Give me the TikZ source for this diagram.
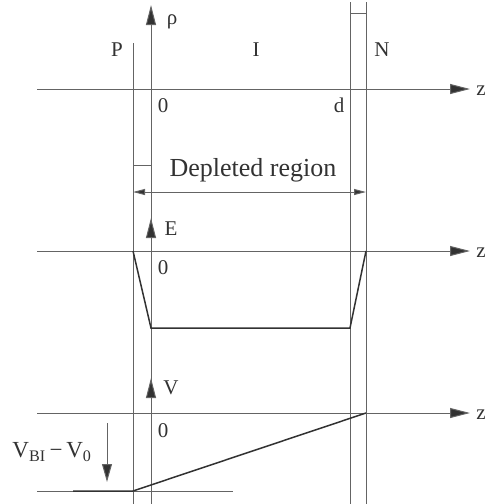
\documentclass[tikz,border=0pt]{standalone}
\usepackage{fontspec}
\setmainfont{Liberation Serif}
\usetikzlibrary{arrows.meta}
\definecolor{axisgray}{RGB}{100,100,100}
\definecolor{inkgray}{RGB}{50,50,50}
\begin{document}
\begin{tikzpicture}[x=1pt,y=-1pt,
  axisline/.style={draw=axisgray,line width=1pt},
  bigarrow/.style={axisline,-{Triangle[length=20pt,width=10pt,fill=inkgray]}},
  tinyarrow/.style={axisline,{Triangle[length=12pt,width=6pt,fill=inkgray]}-{Triangle[length=12pt,width=6pt,fill=inkgray]}},
  curve/.style={draw=inkgray,line width=1.5pt},
  lbl/.style={text=inkgray,font=\fontsize{21}{21}\selectfont,inner sep=0pt}]
\useasboundingbox (0,0) rectangle (487,504);
% vertical boundaries
\coordinate (ptop) at (133,43);   \coordinate (pbot) at (133,504);
\coordinate (rhotop) at (151,5);  \coordinate (rhobot) at (151,504);
\coordinate (dtop) at (350,2);    \coordinate (dbot) at (350,504);
\coordinate (ntop) at (366,2);    \coordinate (nbot) at (366,504);
\draw[axisline] (ptop) -- (pbot);
\draw[axisline] (dtop) -- (dbot);
\draw[axisline] (ntop) -- (nbot);
\draw[bigarrow] (rhobot) -- (rhotop);
% small crossbars
\draw[axisline] (133,165) -- (151,165);
\draw[axisline] (350,13) -- (366,13);
% z axes
\foreach \yy/\nm in {89/rho,251/efield,413/pot}{
  \coordinate (\nm west) at (37,\yy);
  \coordinate (\nm east) at (470,\yy);
  \draw[bigarrow] (\nm west) -- (\nm east);
  \node[lbl,anchor=east] (\nm z) at (486,\yy+2) {z};
}
% depleted region
\coordinate (depl) at (133,192);
\coordinate (depr) at (366,192);
\draw[tinyarrow] (depl) -- (depr);
\node[lbl,font=\fontsize{26}{26}\selectfont] (deptext) at (253,170) {Depleted region};
% labels, top
\node[lbl] (plbl) at (117,50) {P};
\node[lbl] (ilbl) at (256,50) {I};
\node[lbl] (nlbl) at (382,50) {N};
\node[lbl] (rholbl) at (172,22) {ρ};
\node[lbl] (zero1) at (163,106) {0};
\node[lbl] (dlbl) at (339,105) {d};
% field
\draw[bigarrow] (151,245) -- (151,218);
\node[lbl] (elbl) at (171,229) {E};
\node[lbl] (zero2) at (163,268) {0};
\coordinate (e1) at (133,251);
\coordinate (e2) at (151,328);
\coordinate (e3) at (350,328);
\coordinate (e4) at (366,251);
\draw[curve] (e1) -- (e2) -- (e3) -- (e4);
% potential
\draw[bigarrow] (151,405) -- (151,378);
\node[lbl] (vlbl) at (171,388) {V};
\node[lbl] (zero3) at (163,431) {0};
\coordinate (vlow) at (37,491);
\coordinate (vlowend) at (233,491);
\draw[axisline] (vlow) -- (vlowend);
\coordinate (v0) at (73,491);
\coordinate (v1) at (133,491);
\coordinate (v2) at (366,413);
\draw[curve] (v0) -- (v1) -- (v2);
\coordinate (vdtop) at (107,423);
\coordinate (vdbot) at (107,482);
\draw[axisline,-{Triangle[length=18pt,width=10pt,fill=inkgray]}] (vdtop) -- (vdbot);
\node[lbl,font=\fontsize{23}{23}\selectfont] (vbilbl) at (52,452) {V\textsubscript{BI}\,−\,V\textsubscript{0}};
\end{tikzpicture}
\end{document}
